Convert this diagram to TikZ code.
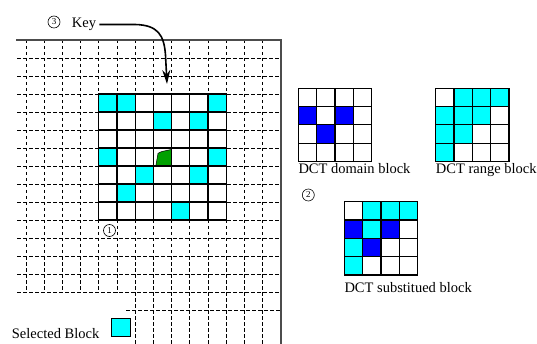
\documentclass[tikz,border=0pt]{standalone}
\usepackage{fontspec}
\setmainfont{Liberation Serif}
\usetikzlibrary{arrows.meta}
\definecolor{cy}{RGB}{0,255,255}
\definecolor{bl}{RGB}{0,0,255}
\definecolor{gr}{RGB}{0,160,0}
\newcommand\dctgrid[2]{%
  \foreach \k in {0,...,4} {
    \draw[blockline] ({#1+18.3*\k},#2) -- ({#1+18.3*\k},{#2+73.2});
    \draw[blockline] (#1,{#2+18.3*\k}) -- ({#1+73.2},{#2+18.3*\k});
  }}
\newcommand\dctcell[4]{\fill[#4] ({#1+18.3*#3},{#2+18.3*#3*0+18.3*0}) rectangle ++(18.3,18.3);}
\begin{document}
\begin{tikzpicture}[x=1pt,y=-1pt,
  dashline/.style={line width=0.8pt,dash pattern=on 3.5pt off 2.5pt},
  solidline/.style={line width=1.3pt,line cap=rect},
  blockline/.style={line width=1.2pt,line cap=rect},
  lbl/.style={font=\fontsize{14.5}{16}\selectfont,inner sep=0pt,anchor=base west},
  circnum/.style={circle,draw,line width=0.6pt,minimum size=12pt,inner sep=0pt,font=\fontsize{9}{9}\selectfont},
  keyarrow/.style={line width=1.6pt,-{Stealth[length=14pt,width=8pt]}},
]
\useasboundingbox (0,0) rectangle (537,344);
% dashed background grid
\foreach \j in {1,...,14} \draw[dashline] (17,{40+18*\j}) -- (281,{40+18*\j});
\draw[dashline] (126,310) -- (281,310);
\foreach \i in {0,...,5} \draw[dashline] ({26+18.2*\i},40) -- ({26+18.2*\i},293);
\foreach \i in {6,...,13} \draw[dashline] ({26+18.2*\i},40) -- ({26+18.2*\i},344);
\draw[line width=1.2pt,black!70] (16,40) -- (281,40) -- (281,344);
% key block
\fill[white] (98.8,94) rectangle (226.2,220);
\foreach \r/\c in {0/0,0/1,0/6,1/3,1/5,3/0,3/6,4/2,4/5,5/1,6/4}
  \fill[cy] ({98.8+18.2*\c},{94+18*\r}) rectangle ++(18.2,18);
\draw[line width=0.5pt,fill=gr] (155.8,166) -- (158,153.4) -- (161.6,151.6) -- (171.6,149.4) -- (171.6,166) -- cycle;
\foreach \k in {0,...,7} {
  \draw[solidline] ({98.8+18.2*\k},94) -- ({98.8+18.2*\k},220);
  \draw[solidline] (98.8,{94+18*\k}) -- (226.2,{94+18*\k});
}
% DCT domain block
\foreach \r/\c in {1/0,1/2,2/1}
  \fill[bl] ({298.3+18.3*\c},{88.3+18.3*\r}) rectangle ++(18.3,18.3);
\dctgrid{298.3}{88.3}
% DCT range block
\foreach \r/\c in {0/1,0/2,0/3,1/0,1/1,1/2,2/0,2/1,3/0}
  \fill[cy] ({435.7+18.3*\c},{88.3+18.3*\r}) rectangle ++(18.3,18.3);
\dctgrid{435.7}{88.3}
% DCT substituted block
\foreach \r/\c in {0/1,0/2,0/3,1/1,2/0,3/0}
  \fill[cy] ({344.3+18.3*\c},{201.7+18.3*\r}) rectangle ++(18.3,18.3);
\foreach \r/\c in {1/0,1/2,2/1}
  \fill[bl] ({344.3+18.3*\c},{201.7+18.3*\r}) rectangle ++(18.3,18.3);
\dctgrid{344.3}{201.7}
% labels
\node[lbl] (domlbl) at (298.3,174) {DCT domain block};
\node[lbl] (ranlbl) at (435.7,174) {DCT range block};
\node[lbl] (sublbl) at (344.3,292) {DCT substitued block};
\node[lbl] (sellbl) at (11.7,338) {Selected Block};
\node[draw,fill=cy,minimum width=19pt,minimum height=18pt,inner sep=0pt,line width=0.8pt] (selbox) at (120.5,327.5) {};
\node[circnum] (n1) at (109.5,230.5) {1};
\node[circnum] (n2) at (308.3,195) {2};
\node[circnum] (n3) at (54,22) {3};
\node[lbl] (key) at (71.7,27.7) {Key};
\coordinate (keytip) at (167,84);
\draw[keyarrow] ([xshift=3pt]key.east) -- (135,24.5) .. controls (158,25) and (164,35) .. (165.5,55) -- (keytip);
\end{tikzpicture}
\end{document}
